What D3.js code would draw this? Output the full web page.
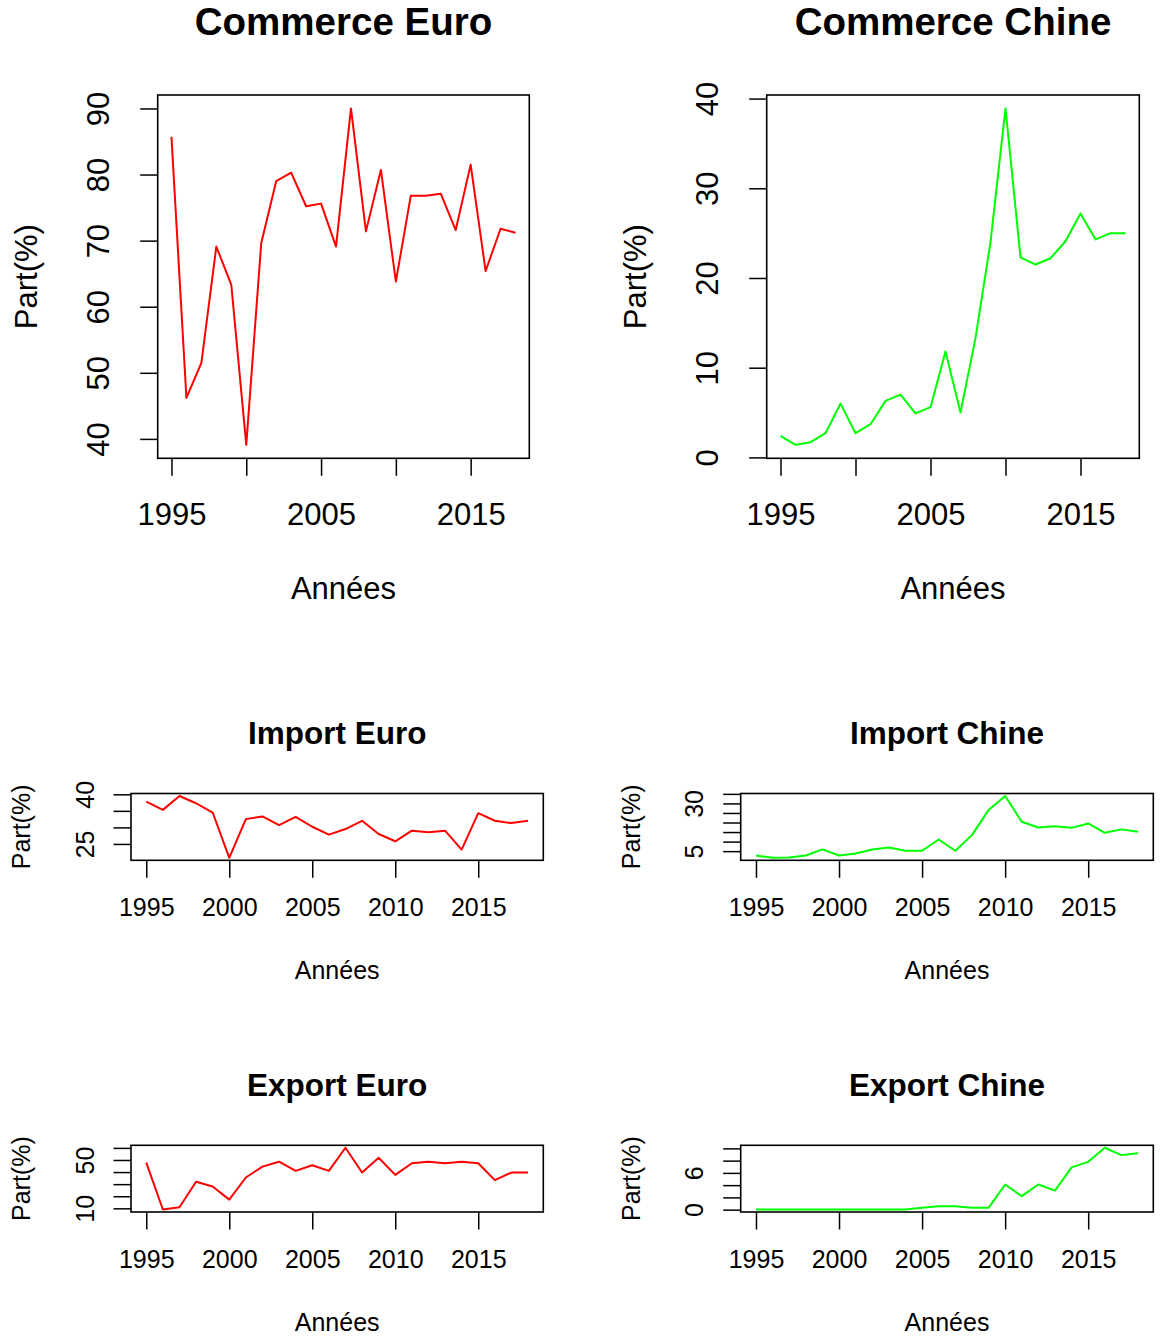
<!DOCTYPE html>
<html><head><meta charset="utf-8">
<script src="https://cdn.jsdelivr.net/npm/d3@7"></script>
<style>
body{margin:0;background:#fff}
svg{display:block}
text{font-family:"Liberation Sans",Arial,sans-serif;fill:#000}
</style>
</head><body>
<svg id="c" width="1160" height="1341"></svg>
<script>
// ---- data ----
const years = [1995,1996,1997,1998,1999,2000,2001,2002,2003,2004,2005,2006,2007,2008,2009,2010,2011,2012,2013,2014,2015,2016,2017,2018];
const commerceEuro = [85.7,46.2,51.5,69.1,63.3,39.1,69.6,79.0,80.3,75.2,75.6,69.1,90.0,71.4,80.7,63.8,76.8,76.8,77.1,71.6,81.5,65.4,71.8,71.2];
const commerceChine = [2.4,1.4,1.7,2.7,6.0,2.7,3.7,6.3,7.0,4.9,5.6,11.8,5.0,13.3,24.0,38.9,22.3,21.5,22.2,24.1,27.2,24.3,25.0,25.0];
const importEuro = [37.8,35.3,39.5,37.3,34.5,20.8,32.5,33.3,30.7,33.2,30.2,27.8,29.5,32.0,28.0,25.8,29.0,28.5,29.0,23.3,34.3,32.0,31.3,32.0];
const importChine = [2.7,1.5,1.7,2.7,5.9,2.7,3.8,5.9,6.9,5.2,5.2,11.1,5.2,13.4,26.5,33.9,20.4,17.4,18.1,17.2,19.5,14.6,16.4,15.1];
const exportEuro = [47.8,9.0,10.9,32.0,28.1,17.2,35.5,44.5,48.6,41.0,45.6,41.0,60.1,39.6,51.9,37.7,47.3,48.6,47.3,48.6,47.3,33.3,39.6,39.6];
const exportChine = [0.02,0.02,0.02,0.02,0.02,0.02,0.02,0.02,0.02,0.02,0.3,0.55,0.55,0.3,0.3,4.1,2.2,4.1,3.1,6.9,7.8,10.1,8.9,9.2];

const xTicks = [1995,2000,2005,2010,2015];
const xLabelsTop = [1995,2005,2015];
const xLabelsBottom = [1995,2000,2005,2010,2015];

const yTicksCommerceEuro = [40,50,60,70,80,90];
const yLabelsCommerceEuro = [40,50,60,70,80,90];
const yTicksCommerceChine = [0,10,20,30,40];
const yLabelsCommerceChine = [0,10,20,30,40];
const yTicksImportEuro = [25,30,35,40];
const yLabelsImportEuro = [25,40];
const yTicksImportChine = [5,10,15,20,25,30,35];
const yLabelsImportChine = [5,30];
const yTicksExportEuro = [10,20,30,40,50,60];
const yLabelsExportEuro = [10,50];
const yTicksExportChine = [0,2,4,6,8,10];
const yLabelsExportChine = [0,6];

const titles = ["Commerce Euro","Commerce Chine","Import Euro","Import Chine","Export Euro","Export Chine"];
const xLabel = "Années";
const yLabel = "Part(%)";

// ---- layout ----
const big = {title:38.5, label:31, titleOff:60, xlabOff:67, xtitleOff:141, ylabOff:48.5, ytitleOff:121};
const small = {title:31.5, label:25, titleOff:49.5, xlabOff:55.5, xtitleOff:118.5, ylabOff:37.5, ytitleOff:101};

const panels = [
  {title:titles[0], data:commerceEuro, color:"#ff0000", box:[157.7,529.3,95,458.3], st:big, yt:yTicksCommerceEuro, yl:yLabelsCommerceEuro, xl:xLabelsTop},
  {title:titles[1], data:commerceChine, color:"#00ff00", box:[766.7,1139.3,95,458.3], st:big, yt:yTicksCommerceChine, yl:yLabelsCommerceChine, xl:xLabelsTop},
  {title:titles[2], data:importEuro, color:"#ff0000", box:[131,543.3,793.5,860.3], st:small, yt:yTicksImportEuro, yl:yLabelsImportEuro, xl:xLabelsBottom},
  {title:titles[3], data:importChine, color:"#00ff00", box:[740.7,1153.3,793.5,860.3], st:small, yt:yTicksImportChine, yl:yLabelsImportChine, xl:xLabelsBottom},
  {title:titles[4], data:exportEuro, color:"#ff0000", box:[131,543.3,1145.3,1212], st:small, yt:yTicksExportEuro, yl:yLabelsExportEuro, xl:xLabelsBottom},
  {title:titles[5], data:exportChine, color:"#00ff00", box:[740.7,1153.3,1145.3,1212], st:small, yt:yTicksExportChine, yl:yLabelsExportChine, xl:xLabelsBottom}
];

const svg = d3.select("#c");
const TICK = 17.5;

function ext(arr){
  const [a,b] = d3.extent(arr);
  const r = b - a;
  return [a - 0.04*r, b + 0.04*r];
}

panels.forEach(p => {
  const [x0,x1,y0,y1] = p.box;
  const st = p.st;
  const x = d3.scaleLinear().domain(ext(years)).range([x0,x1]);
  const y = d3.scaleLinear().domain(ext(p.data)).range([y1,y0]);
  const g = svg.append("g");

  // line
  g.append("path")
    .datum(years.map((yr,i)=>[yr,p.data[i]]))
    .attr("fill","none").attr("stroke",p.color).attr("stroke-width",2)
    .attr("stroke-linejoin","round")
    .attr("d", d3.line().x(d=>x(d[0])).y(d=>y(d[1])));

  // x axis
  const xa = g.append("g").attr("transform",`translate(0,${y1})`)
    .call(d3.axisBottom(x).tickValues(xTicks).tickSize(TICK)
      .tickFormat(d => p.xl.includes(d) ? String(d) : ""));
  xa.select(".domain").remove();
  xa.selectAll("line").attr("stroke","#000").attr("stroke-width",1.5);
  xa.selectAll("text").attr("y",st.xlabOff).attr("dy",0)
    .style("font-size",st.label+"px").attr("fill","#000");

  // y axis
  const ya = g.append("g").attr("transform",`translate(${x0},0)`)
    .call(d3.axisLeft(y).tickValues(p.yt).tickSize(TICK)
      .tickFormat(d => p.yl.includes(d) ? String(d) : ""));
  ya.select(".domain").remove();
  ya.selectAll("line").attr("stroke","#000").attr("stroke-width",1.5);
  ya.selectAll("text")
    .attr("transform","rotate(-90)")
    .attr("x",0).attr("y",-st.ylabOff).attr("dy",0)
    .attr("text-anchor","middle")
    .style("font-size",st.label+"px").attr("fill","#000");

  // box
  g.append("rect").attr("x",x0).attr("y",y0).attr("width",x1-x0).attr("height",y1-y0)
    .attr("fill","none").attr("stroke","#000").attr("stroke-width",1.6);

  const cx = (x0+x1)/2, cy = (y0+y1)/2;
  // title
  g.append("text").attr("x",cx).attr("y",y0-st.titleOff)
    .attr("text-anchor","middle").style("font-weight","bold")
    .style("font-size",st.title+"px").text(p.title);
  // x title
  g.append("text").attr("x",cx).attr("y",y1+st.xtitleOff)
    .attr("text-anchor","middle").style("font-size",st.label+"px").text(xLabel);
  // y title
  g.append("text").attr("transform",`translate(${x0-st.ytitleOff},${cy}) rotate(-90)`)
    .attr("text-anchor","middle").style("font-size",st.label+"px").text(yLabel);
});
</script>
</body></html>
